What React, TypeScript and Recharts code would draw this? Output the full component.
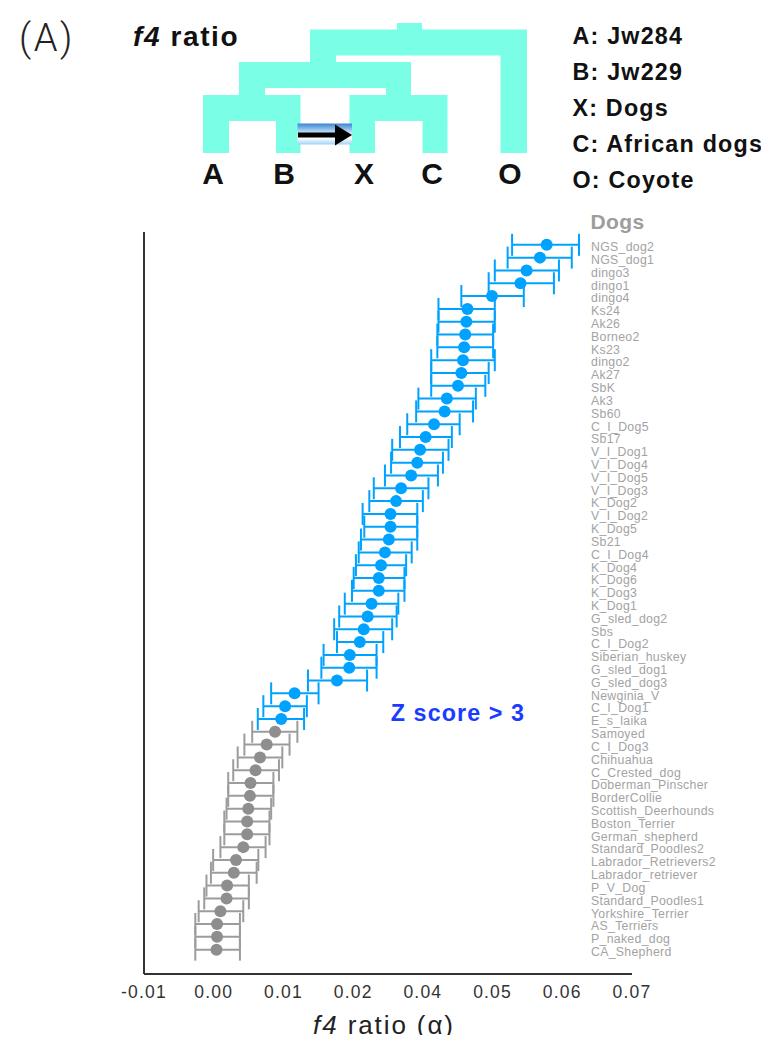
import { ErrorBar, Label, ReferenceLine, Scatter, ScatterChart, XAxis, YAxis } from 'recharts';

// populations, top to bottom
const rowNames = [
  'NGS_dog2', 'NGS_dog1', 'dingo3', 'dingo1', 'dingo4', 'Ks24', 'Ak26', 'Borneo2',
  'Ks23', 'dingo2', 'Ak27', 'SbK', 'Ak3', 'Sb60', 'C_I_Dog5', 'Sb17', 'V_I_Dog1',
  'V_I_Dog4', 'V_I_Dog5', 'V_I_Dog3', 'K_Dog2', 'V_I_Dog2', 'K_Dog5', 'Sb21',
  'C_I_Dog4', 'K_Dog4', 'K_Dog6', 'K_Dog3', 'K_Dog1', 'G_sled_dog2', 'Sbs',
  'C_I_Dog2', 'Siberian_huskey', 'G_sled_dog1', 'G_sled_dog3', 'Newginia_V',
  'C_I_Dog1', 'E_s_laika', 'Samoyed', 'C_I_Dog3', 'Chihuahua', 'C_Crested_dog',
  'Doberman_Pinscher', 'BorderCollie', 'Scottish_Deerhounds', 'Boston_Terrier',
  'German_shepherd', 'Standard_Poodles2', 'Labrador_Retrievers2', 'Labrador_retriever',
  'P_V_Dog', 'Standard_Poodles1', 'Yorkshire_Terrier', 'AS_Terriers', 'P_naked_dog',
  'CA_Shepherd',
];

// f4 ratio estimate
const f4Values = [
  0.0597, 0.0585, 0.0561, 0.055, 0.0499, 0.0455, 0.0453, 0.0451,
  0.0449, 0.0447, 0.0444, 0.0438, 0.0418, 0.0414, 0.0395, 0.038, 0.037,
  0.0365, 0.0354, 0.0336, 0.0327, 0.0317, 0.0317, 0.0314,
  0.0307, 0.03, 0.0296, 0.0296, 0.0283, 0.0276, 0.0269,
  0.0262, 0.0244, 0.0243, 0.0221, 0.0145,
  0.0128, 0.0121, 0.011, 0.0095, 0.0083, 0.0075,
  0.0066, 0.0065, 0.0062, 0.006,
  0.006, 0.0053, 0.004, 0.0036,
  0.0024, 0.0023, 0.0012, 0.0006, 0.0006,
  0.0005,
];

// lower / upper end of the interval
const ciLow = [
  0.0535, 0.0527, 0.0504, 0.0493, 0.0444, 0.0403, 0.0403, 0.0401,
  0.0401, 0.039, 0.039, 0.039, 0.0367, 0.0363, 0.0347, 0.0334, 0.032,
  0.0318, 0.0307, 0.0287, 0.0279, 0.0267, 0.027, 0.0264,
  0.026, 0.0255, 0.0251, 0.0248, 0.0235, 0.0225, 0.0216,
  0.0221, 0.0197, 0.0193, 0.0169, 0.0103,
  0.0089, 0.0079, 0.0069, 0.0055, 0.0043, 0.0035,
  0.0026, 0.0026, 0.0023, 0.0019,
  0.0019, 0.0012, -0.0001, -0.0005,
  -0.0013, -0.0017, -0.0027, -0.0033, -0.0033,
  -0.0033,
];
const ciHigh = [
  0.0655, 0.0642, 0.0619, 0.061, 0.0556, 0.0504, 0.0504, 0.0501,
  0.0501, 0.0504, 0.0493, 0.0487, 0.047, 0.0465, 0.0441, 0.0427, 0.0421,
  0.0411, 0.0402, 0.0385, 0.0375, 0.0365, 0.0365, 0.0365,
  0.0355, 0.0345, 0.0342, 0.0342, 0.0331, 0.0328, 0.032,
  0.0304, 0.0292, 0.0292, 0.0275, 0.0188,
  0.0167, 0.0162, 0.015, 0.0136, 0.0123, 0.0117,
  0.0107, 0.0107, 0.0103, 0.01,
  0.01, 0.0093, 0.008, 0.0077,
  0.0063, 0.0063, 0.0053, 0.0047, 0.0047,
  0.0047,
];

// rows with Z score > 3 come first
const significantRows = 38;

const xTicks = [-0.0125, 0, 0.0125, 0.025, 0.0375, 0.05, 0.0625, 0.075];
const xTickLabels = ['-0.01', '0.00', '0.01', '0.02', '0.04', '0.05', '0.06', '0.07'];
const rowTicks = rowNames.map((_, i) => i + 1);

const treeLeaves = ['A', 'B', 'X', 'C', 'O'];
const legendLines = ['A: Jw284', 'B: Jw229', 'X: Dogs', 'C: African dogs', 'O: Coyote'];

const BLUE = '#00a2ff';
const GRAY_DOT = '#8e8e8e';
const GRAY_BAR = '#9c9c9c';
const CYAN = '#7affe6';
const SANS = '"Liberation Sans", Arial, Helvetica, sans-serif';

const points = rowNames.map((name, i) => ({
  name,
  row: i + 1,
  value: f4Values[i],
  err: [f4Values[i] - ciLow[i], ciHigh[i] - f4Values[i]],
}));
const bluePoints = points.slice(0, significantRows);
const grayPoints = points.slice(significantRows);

const dotShape = (color: string) => (props: any) =>
  <circle cx={props.cx} cy={props.cy} r={6} fill={color} />;

const RowTick = ({ x, y, payload }: any) => (
  <text
    x={x - 41}
    y={y + 2}
    dy="0.35em"
    textAnchor="start"
    fontSize={12.3}
    letterSpacing={0.3}
    fontFamily={SANS}
    fill="#a3a3a3"
  >
    {rowNames[payload.value - 1]}
  </text>
);

const AxisTitle = ({ viewBox }: any) => (
  <text
    x={viewBox.x + viewBox.width / 2 - 4}
    y={viewBox.y + 60}
    textAnchor="middle"
    fontSize={26}
    letterSpacing={1.9}
    fontFamily={SANS}
    fill="#222"
  >
    <tspan fontStyle="italic">f4</tspan> ratio (α)
  </text>
);

// schematic tree (A,B),(X,C),O with the B -> X gene flow arrow
const Tree = () => (
  <g fill={CYAN}>
    <rect x={397} y={23} width={25} height={8} />
    <rect x={310} y={29.5} width={217} height={26} />
    <rect x={500.5} y={55} width={26.5} height={98} />
    <rect x={310} y={55} width={26} height={8} />
    <rect x={239} y={62} width={172} height={26} />
    <rect x={239} y={87} width={26} height={9} />
    <rect x={386} y={87} width={25} height={9} />
    <rect x={203} y={95} width={97.5} height={26} />
    <rect x={203} y={120} width={26} height={33} />
    <rect x={276} y={120} width={24.5} height={33} />
    <rect x={349.5} y={95} width={98} height={26} />
    <rect x={349.5} y={120} width={25.5} height={33} />
    <rect x={422.5} y={120} width={25} height={33} />
    <rect x={297.5} y={123.5} width={54.5} height={21} fill="url(#flowFill)" />
    <rect x={298} y={132.5} width={38} height={5} fill="#000" />
    <polygon points="335,124.5 352,135 335,145.5" fill="#000" />
  </g>
);

export default function App() {
  const leafX = [213, 284, 364, 432, 510];
  return (
    <div style={{ position: 'relative', width: 769, height: 1043, margin: -8, background: '#fff' }}>
      <div style={{ position: 'absolute', left: 0, top: 0 }}>
        <ScatterChart
          width={769}
          height={1043}
          margin={{ top: 232, right: 0, bottom: 9, left: 144 }}
        >
          <XAxis
            type="number"
            dataKey="value"
            domain={[-0.0125, 0.075]}
            allowDataOverflow
            ticks={xTicks}
            interval={0}
            tickFormatter={(v: number) => xTickLabels[xTicks.indexOf(v)] ?? ''}
            tickLine={false}
            tickSize={6}
            tickMargin={6}
            height={60}
            axisLine={{ stroke: '#333', strokeWidth: 2 }}
            tick={{ fontSize: 17.5, fill: '#333', fontFamily: SANS, letterSpacing: 1.2 }}
          >
            <Label content={<AxisTitle />} />
          </XAxis>
          <YAxis
            yAxisId="rows"
            orientation="right"
            type="number"
            dataKey="row"
            domain={[0, 57.9]}
            allowDataOverflow
            reversed
            ticks={rowTicks}
            interval={0}
            width={137}
            tickSize={0}
            tickMargin={0}
            tickLine={false}
            axisLine={false}
            tick={(p: any) => <RowTick {...p} />}
          />
          {/* left frame line at the start of the x domain */}
          <ReferenceLine
            x={-0.0125}
            yAxisId="rows"
            stroke="#333"
            strokeWidth={2}
            ifOverflow="visible"
          />
          <Scatter
            data={grayPoints}
            yAxisId="rows"
            isAnimationActive={false}
            shape={dotShape(GRAY_DOT)}
          >
            <ErrorBar
              dataKey="err"
              direction="x"
              width={11}
              strokeWidth={2}
              stroke={GRAY_BAR}
              isAnimationActive={false}
            />
          </Scatter>
          <Scatter
            data={bluePoints}
            yAxisId="rows"
            isAnimationActive={false}
            shape={dotShape(BLUE)}
          >
            <ErrorBar
              dataKey="err"
              direction="x"
              width={11}
              strokeWidth={2}
              stroke={BLUE}
              isAnimationActive={false}
            />
          </Scatter>
        </ScatterChart>
      </div>
      <svg
        width={769}
        height={1043}
        style={{ position: 'absolute', left: 0, top: 0, pointerEvents: 'none' }}
      >
        <defs>
          <linearGradient id="flowFill" x1="0" y1="0" x2="0" y2="1">
            <stop offset="0%" stopColor="#3a84d2" />
            <stop offset="40%" stopColor="#b9dcf6" />
            <stop offset="70%" stopColor="#ffffff" />
            <stop offset="100%" stopColor="#9fd2f6" />
          </linearGradient>
        </defs>
        <text x={19} y={51} fontSize={38} fontWeight={300} letterSpacing={2.5} fontFamily="Roboto, sans-serif" fill="#222">
          (A)
        </text>
        <text x={133} y={46} fontSize={28} fontWeight="bold" letterSpacing={1.6} fontFamily={SANS} fill="#111">
          <tspan fontStyle="italic">f4</tspan> ratio
        </text>
        <Tree />
        {treeLeaves.map((t, i) => (
          <text key={t} x={leafX[i]} y={183.5} textAnchor="middle" fontSize={30} fontWeight="bold" fontFamily={SANS} fill="#111">
            {t}
          </text>
        ))}
        {legendLines.map((t, i) => (
          <text key={t} x={572.5} y={44 + i * 36} fontSize={23.3} fontWeight="bold" letterSpacing={1.2} fontFamily={SANS} fill="#111">
            {t}
          </text>
        ))}
        <text x={590.5} y={229} fontSize={21} fontWeight="bold" letterSpacing={0.4} fontFamily={SANS} fill="#9d9d9d">
          Dogs
        </text>
        <text x={390.7} y={721} fontSize={23.3} fontWeight="bold" letterSpacing={1.1} fontFamily={SANS} fill="#1a3cff">
          Z score &gt; 3
        </text>
      </svg>
    </div>
  );
}
